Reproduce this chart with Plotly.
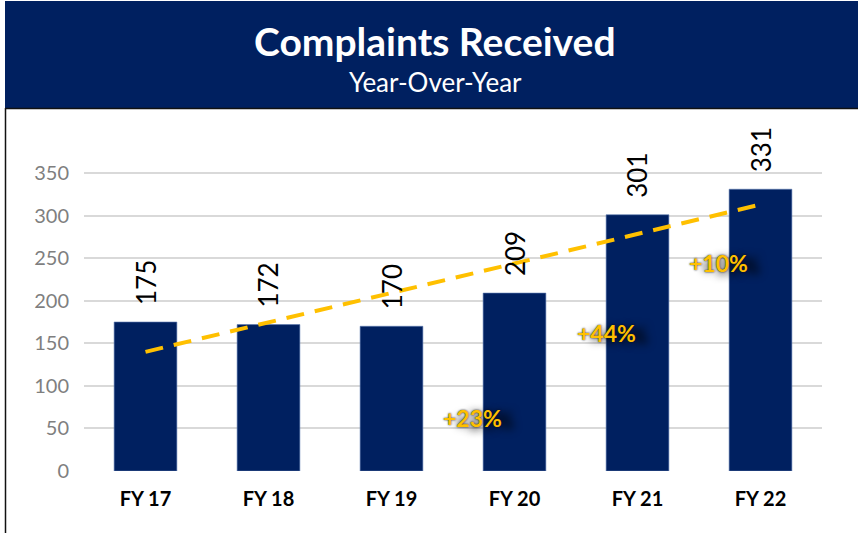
import plotly.graph_objects as go

categories = ["FY 17", "FY 18", "FY 19", "FY 20", "FY 21", "FY 22"]
complaints = [175, 172, 170, 209, 301, 331]
trend_x = ["FY 17", "FY 22"]
trend_y = [140, 313]
pct_labels = ["+23%", "+44%", "+10%"]
pct_x = [2.66, 3.75, 4.66]
pct_y = [62, 162, 244]
y_ticks = [0, 50, 100, 150, 200, 250, 300, 350]

W, H = 858, 533
L, R, T, B = 84, 36, 139, 62
NAVY = "#002060"
GOLD = "#FFC000"


def px(xp):
    return (xp - L) / (W - L - R)


def py(yp):
    return (H - B - yp) / (H - T - B)


fig = go.Figure()
fig.add_trace(go.Bar(
    x=categories, y=complaints, width=0.51,
    marker=dict(color=NAVY, line=dict(color="#5b78b0", width=0.6)),
    hoverinfo="skip", showlegend=False,
))
fig.add_trace(go.Scatter(
    x=trend_x, y=trend_y, mode="lines",
    line=dict(color=GOLD, width=4, dash="18px,11px"),
    hoverinfo="skip", showlegend=False,
))

for c, v in zip(categories, complaints):
    fig.add_annotation(
        x=c, y=v, xref="x", yref="y", text=str(v), showarrow=False,
        textangle=-90, yanchor="bottom", xanchor="center", yshift=15,
        font=dict(family="Lato, Liberation Sans", size=26, color="#000000"),
    )

for lab, xx, yy in zip(pct_labels, pct_x, pct_y):
    fig.add_annotation(
        x=xx, y=yy, xref="x", yref="y", text="<b>" + lab + "</b>", showarrow=False,
        xanchor="center", yanchor="middle",
        font=dict(family="Lato, Liberation Sans", size=23, color=GOLD,
                  shadow="0px 0px 2px #111, 12px 2px 8px rgba(0,0,0,0.95)"),
    )

# header band
fig.add_shape(type="rect", xref="paper", yref="paper",
              x0=px(5), x1=px(W + 2), y0=py(108), y1=py(1),
              fillcolor=NAVY, line=dict(width=0), layer="below")
# borders of the white panel
fig.add_shape(type="line", xref="paper", yref="paper",
              x0=px(5), x1=px(W + 2), y0=py(108.5), y1=py(108.5),
              line=dict(color="#111111", width=1.5))
fig.add_shape(type="line", xref="paper", yref="paper",
              x0=px(5.5), x1=px(5.5), y0=py(108), y1=py(H + 2),
              line=dict(color="#111111", width=1.5))

fig.add_annotation(xref="paper", yref="paper", x=px(435), y=py(41),
                   text="<b>Complaints Received</b>", showarrow=False,
                   xanchor="center", yanchor="middle",
                   font=dict(family="Lato", size=39, color="white"))
fig.add_annotation(xref="paper", yref="paper", x=px(435), y=py(82),
                   text="Year-Over-Year", showarrow=False,
                   xanchor="center", yanchor="middle",
                   font=dict(family="Lato", size=26, color="white"))

fig.update_layout(
    width=W, height=H,
    margin=dict(l=L, r=R, t=T, b=B, pad=0),
    paper_bgcolor="white", plot_bgcolor="white",
    bargap=0.49,
    xaxis=dict(
        type="category", showgrid=False, zeroline=False, showline=False,
        ticks="", tickfont=dict(family="Lato", size=20, color="#000000", weight="bold"),
        ticklabelstandoff=14,
    ),
    yaxis=dict(
        range=[0, 390], tickvals=y_ticks, showgrid=True, gridcolor="#d9d9d9",
        gridwidth=1.5, zeroline=False, showline=False, ticks="",
        tickfont=dict(family="Lato", size=20, color="#7f7f7f"),
        ticklabelstandoff=14,
    ),
)

fig.write_html("out.html", config={"displayModeBar": False},
               post_script="document.body.style.margin='0px';document.body.style.overflow='hidden';")
